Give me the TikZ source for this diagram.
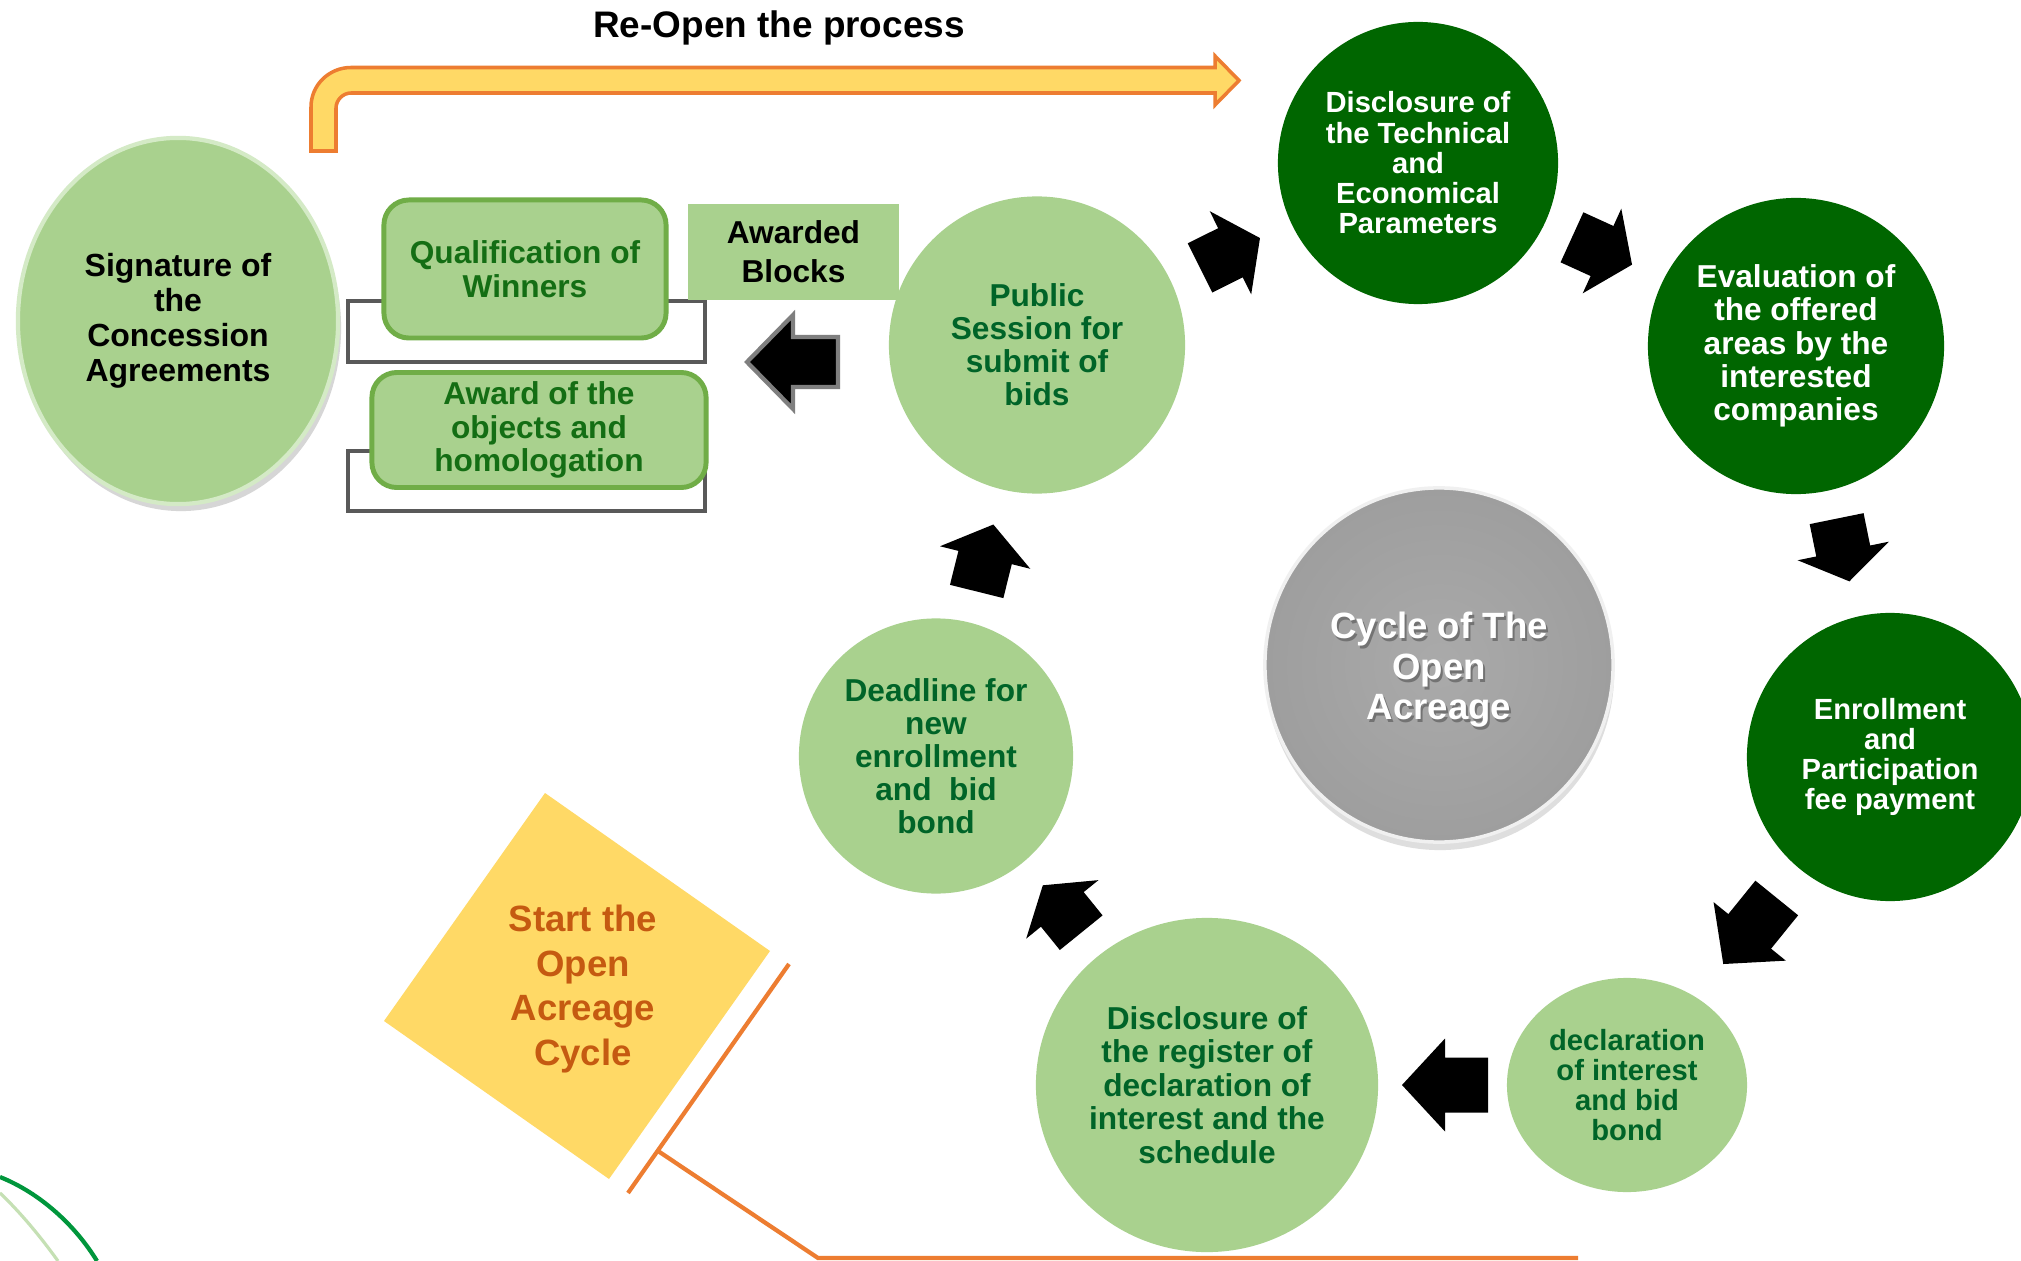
\documentclass[tikz,border=0pt]{standalone}
\usepackage{fontspec}
\setmainfont{Liberation Sans}
\usetikzlibrary{shapes.geometric}

\newcommand{\cyclefont}[2]{\bfseries\fontsize{#1}{#2}\selectfont}

\begin{document}
\begin{tikzpicture}[x=0.01cm, y=-0.01cm,
  lightcirc/.style={ellipse, inner sep=0pt, fill=lightgreen, text=textgreen, align=center},
  darkcirc/.style={ellipse, inner sep=0pt, fill=darkgreen, text=white, align=center},
  greenbox/.style={rectangle, rounded corners=0.25cm, draw=boxgreen, line width=1.4pt,
    fill=lightgreen, text=boxtext, align=center, inner sep=0pt},
  grayframe/.style={draw=framegray, line width=1.4pt, fill=white}]
  % Define colors
  \definecolor{lightgreen}{RGB}{169,209,142}
  \definecolor{darkgreen}{RGB}{0,102,0}
  \definecolor{textgreen}{RGB}{0,100,40}
  \definecolor{boxgreen}{RGB}{112,173,71}
  \definecolor{boxtext}{RGB}{20,110,20}
  \definecolor{framegray}{RGB}{89,89,89}
  \definecolor{arrowgray}{RGB}{127,127,127}
  \definecolor{arrowyellow}{RGB}{255,217,102}
  \definecolor{arroworange}{RGB}{237,125,49}
  \definecolor{startorange}{RGB}{197,90,17}
  \definecolor{curvegreen}{RGB}{0,150,60}
  \definecolor{palegreen}{RGB}{197,224,180}

  % Page
  \fill[white] (0,0) rectangle (2021,1261);
  \useasboundingbox (0,0) rectangle (2021,1261);

  % Re-open arrow
  \node[font=\cyclefont{10.5}{12}] (reopen) at (779,28) {Re-Open the process};
  \draw[fill=arrowyellow, draw=arroworange, line width=1pt]
    (311,151) -- (311,107) .. controls (311,85) and (329,67.5) .. (351,67.5)
    -- (1215,67.5) -- (1215,56) -- (1239,80.5) -- (1215,105) -- (1215,93)
    -- (351,93) .. controls (343,93) and (336,100) .. (336,108) -- (336,151) -- cycle;

  % Signature
  \fill[black!16] (181,328) ellipse [x radius=1.6cm, y radius=1.83cm];
  \node[lightcirc, text=black, draw={rgb,255:red,212;green,234;blue,198}, line width=1.2pt,
    minimum width=3.2cm, minimum height=3.66cm, font=\cyclefont{9.1}{10}]
    (sig) at (178,321) {Signature of\\the\\Concession\\Agreements};

  % Qualification and award
  \draw[grayframe] (348,301) rectangle (705,362);
  \node[greenbox, minimum width=2.82cm, minimum height=1.38cm, font=\cyclefont{9}{9.7}]
    (qual) at (525,269) {Qualification of\\Winners};
  \draw[grayframe] (348,451) rectangle (705,511);
  \node[greenbox, minimum width=3.34cm, minimum height=1.15cm, font=\cyclefont{9}{9.5}]
    (award) at (539,430) {Award of the\\objects and\\homologation};
  \node[fill=lightgreen, inner sep=0pt, minimum width=2.11cm, minimum height=0.96cm,
    align=center, font=\cyclefont{9}{11.1}] (blocks) at (793.5,252) {Awarded\\Blocks};
  \draw[fill=black, draw=arrowgray, line width=1.2pt]
    (838,337) -- (793,337) -- (793,315) -- (747,362) -- (793,409) -- (793,387) -- (838,387) -- cycle;

  % Cycle steps
  \node[lightcirc, minimum width=2.96cm, minimum height=2.97cm, font=\cyclefont{9}{9.4}]
    (pub) at (1037,345) {Public\\Session for\\submit of\\bids};
  \node[darkcirc, minimum width=2.8cm, minimum height=2.82cm, font=\cyclefont{8.3}{8.6}]
    (tech) at (1418,163) {Disclosure of\\the Technical\\and\\Economical\\Parameters};
  \node[darkcirc, minimum width=2.96cm, minimum height=2.96cm, font=\cyclefont{9}{9.5}]
    (eval) at (1796,346) {Evaluation of\\the offered\\areas by the\\interested\\companies};
  \node[darkcirc, minimum width=2.86cm, minimum height=2.88cm, font=\cyclefont{8.3}{8.5}]
    (enrol) at (1890,757) {Enrollment\\and\\Participation\\fee payment};
  \node[lightcirc, minimum width=2.4cm, minimum height=2.14cm, font=\cyclefont{8.3}{8.6}]
    (decl) at (1627,1085) {declaration\\of interest\\and bid\\bond};
  \node[lightcirc, minimum width=3.42cm, minimum height=3.34cm, font=\cyclefont{9}{9.5}]
    (reg) at (1207,1085) {Disclosure of\\the register of\\declaration of\\interest and the\\schedule};
  \node[lightcirc, minimum width=2.74cm, minimum height=2.75cm, font=\cyclefont{9}{9.4}]
    (dead) at (936,756) {Deadline for\\new\\enrollment\\and~ bid\\bond};

  % Center
  \fill[black!13] (1440,673) ellipse [x radius=1.74cm, y radius=1.77cm];
  \node[ellipse, inner sep=0pt, minimum width=3.48cm, minimum height=3.54cm,
    inner color={rgb,255:red,170;green,170;blue,170}, outer color={rgb,255:red,158;green,158;blue,158},
    draw=black!6, line width=1pt] (cyc) at (1439,665) {};
  \node[align=center, text=black!55, font=\cyclefont{10.4}{11.5}] (cycshade) at (1441,673)
    {Cycle of The\\Open\\Acreage};
  \node[align=center, text=white, font=\cyclefont{10.4}{11.5}] (cyctext) at (1439,670)
    {Cycle of The\\Open\\Acreage};

  % Cycle arrows
  \foreach \cx/\cy/\ang/\len/\head in {1230/253/26.5/67/33, 1602/251/-24.5/66/33,
      1843/550/-78.5/64/31, 1750/931/-129/85/42, 1445/1085/180/86/43,
      1062/909/129/61/31, 985/558/76/69/34} {
    \fill[black, shift={(\cx,\cy)}, rotate=\ang]
      ({-\len/2},-27.5) -- ({\len/2-\head},-27.5) -- ({\len/2-\head},-46.5) -- ({\len/2},0)
      -- ({\len/2-\head},46.5) -- ({\len/2-\head},27.5) -- ({-\len/2},27.5) -- cycle;
  }

  % Start
  \fill[arrowyellow] (545,793) -- (770,951) -- (609,1179) -- (384,1021) -- cycle;
  \node[align=center, text=startorange, font=\cyclefont{10.4}{12.7}] (start) at (583,989)
    {Start the\\Open\\Acreage\\Cycle};
  \draw[arroworange, line width=1.2pt] (789,964) -- (628,1193);
  \draw[arroworange, line width=1.2pt] (658,1151) -- (818,1258) -- (1578,1258);

  % Corner curves
  \draw[curvegreen, line width=1.2pt] (0,1177) .. controls (40,1193) and (75,1225) .. (97,1261);
  \draw[palegreen, line width=0.9pt] (0,1193) .. controls (20,1212) and (40,1236) .. (58,1261);
\end{tikzpicture}
\end{document}
